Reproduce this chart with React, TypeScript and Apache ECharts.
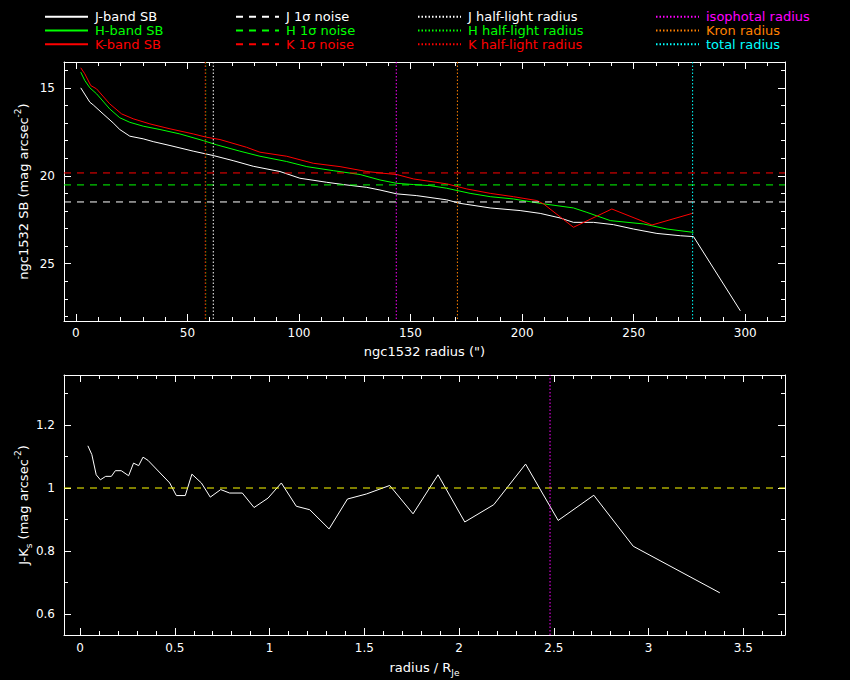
import React, { useEffect, useRef } from "react";
import * as echarts from "echarts";

// ---------- data ----------
const jRadius = [2.2, 6.3, 7.8, 12.2, 16.7, 19.7, 24.2, 30.2, 34.7, 42.2, 52.6, 61.6, 70.5, 79.5, 91.5, 100.4, 112.4, 119.9, 130.4, 136.3, 143.8, 152.8, 166.2, 172.2, 185.7, 199.1, 208.1, 217, 223, 232, 240.9, 249.9, 260.4, 270.9, 276.8, 297.8];
const jSB = [15.0, 15.82, 15.97, 16.48, 16.99, 17.37, 17.75, 17.9, 18.06, 18.28, 18.6, 18.85, 19.14, 19.46, 19.76, 20.14, 20.37, 20.5, 20.66, 20.81, 21.03, 21.13, 21.37, 21.57, 21.83, 21.98, 22.14, 22.4, 22.65, 22.65, 22.78, 23.03, 23.28, 23.41, 23.46, 27.68];

const hRadius = [2.2, 4, 6.3, 9.3, 15.2, 19.7, 24.2, 30.2, 37.7, 46.6, 57.1, 63.1, 73.5, 82.5, 94.5, 103.5, 115.4, 127.4, 136.3, 143.8, 151.3, 158.7, 166.2, 176.7, 185.7, 196.1, 208.1, 223, 229, 239.5, 254.4, 264.9, 276.8];
const hSB = [14.11, 14.58, 15.0, 15.34, 16.2, 16.7, 16.96, 17.18, 17.37, 17.62, 18.0, 18.24, 18.6, 18.89, 19.19, 19.48, 19.71, 19.93, 20.24, 20.43, 20.5, 20.56, 20.71, 21.0, 21.19, 21.32, 21.57, 21.83, 22.08, 22.55, 22.74, 23.03, 23.22];

const kRadius = [2.2, 4, 6.7, 9.3, 15.2, 20.5, 25.7, 33.2, 42.2, 52.6, 58.6, 64.6, 76.5, 82.5, 94.5, 106.4, 118.4, 130.4, 136.3, 143.8, 151.3, 166.2, 175.2, 185.7, 196.1, 206.6, 209.6, 223, 240.2, 258.2, 276.8];
const kSB = [13.86, 14.2, 14.87, 15.06, 15.91, 16.48, 16.76, 17.05, 17.33, 17.62, 17.81, 17.94, 18.38, 18.66, 18.89, 19.29, 19.48, 19.76, 19.84, 19.93, 20.18, 20.46, 20.75, 21.0, 21.19, 21.41, 21.6, 22.93, 21.89, 22.8, 22.12];

// 1-sigma noise levels J, H, K
const noiseLevels = [21.49, 20.52, 19.84];
// half-light radii J, H, K
const halfLightRadii = [61.6, 58.2, 58.0];
const isophotalRadius = 143.6;
const kronRadius = 171;
const totalRadius = 276.4;

// J-Ks colour profile vs radius / R_Je
const ratioRadius = [0.041, 0.062, 0.085, 0.107, 0.135, 0.165, 0.186, 0.217, 0.256, 0.282, 0.309, 0.332, 0.358, 0.473, 0.508, 0.555, 0.59, 0.64, 0.687, 0.742, 0.789, 0.856, 0.918, 0.992, 1.062, 1.141, 1.212, 1.314, 1.411, 1.511, 1.634, 1.757, 1.889, 2.03, 2.183, 2.351, 2.523, 2.711, 2.919, 3.376];
const jkColour = [1.134, 1.106, 1.042, 1.026, 1.037, 1.037, 1.055, 1.055, 1.039, 1.079, 1.071, 1.098, 1.088, 1.016, 0.976, 0.976, 1.044, 1.016, 0.971, 0.995, 0.984, 0.984, 0.938, 0.968, 1.016, 0.942, 0.931, 0.870, 0.965, 0.981, 1.008, 0.918, 1.042, 0.892, 0.947, 1.076, 0.897, 0.977, 0.815, 0.667];
const colourReference = 1.0;
const isophotalRatio = 2.48;

// axis ranges
const topX = [-5.3, 317.8];
const topY = [13.53, 28.26];
const botX = [-0.085, 3.72];
const botY = [0.533, 1.359];

// ---------- styling ----------
const FONT = "DejaVu Sans";
const WHITE = "#ffffff";
const GREEN = "#00ff00";
const RED = "#ff0000";
const MAGENTA = "#ff00ff";
const ORANGE = "#ff8000";
const CYAN = "#00ffff";
const YELLOW = "#ffff00";
const DASH = [7, 6];
const DOT = [1.5, 2];

const zip = (xs: number[], ys: number[]) => xs.map((x, i) => [x, ys[i]]);

const multipleFormatter = (step: number) => (v: number) => {
  const k = v / step;
  if (Math.abs(k - Math.round(k)) > 1e-6) return "";
  return String(Math.round(v * 1000) / 1000);
};

function makeAxis(o: any) {
  return {
    type: "value",
    gridIndex: o.grid,
    position: o.position,
    min: o.range[0],
    max: o.range[1],
    inverse: !!o.inverse,
    splitNumber: o.splitNumber,
    axisLine: { show: true, onZero: false, lineStyle: { color: WHITE, width: 1 } },
    axisTick: { show: true, inside: true, length: 7, lineStyle: { color: WHITE, width: 1 } },
    minorTick: { show: true, splitNumber: o.minor, length: 4, lineStyle: { color: WHITE, width: 1 } },
    splitLine: { show: false },
    minorSplitLine: { show: false },
    axisLabel: o.labels
      ? {
          show: true,
          color: WHITE,
          fontFamily: FONT,
          fontSize: 12,
          margin: o.margin,
          formatter: multipleFormatter(o.step),
        }
      : { show: false },
    name: o.name || "",
    nameLocation: "middle",
    nameGap: o.nameGap || 0,
    nameRotate: o.nameRotate || 0,
    nameMoveOverlap: false,
    nameTextStyle: {
      color: WHITE,
      fontFamily: FONT,
      fontSize: 13,
      rich: {
        t: { color: WHITE, fontFamily: FONT, fontSize: 13, lineHeight: 20 },
        p: { color: WHITE, fontFamily: FONT, fontSize: 9, verticalAlign: "top" },
        b: { color: WHITE, fontFamily: FONT, fontSize: 9, verticalAlign: "bottom" },
      },
    },
  };
}

function lineSeries(name: string, data: number[][], color: string, type: any, xi: number, yi: number) {
  return {
    type: "line",
    name,
    xAxisIndex: xi,
    yAxisIndex: yi,
    data,
    symbol: "none",
    showSymbol: false,
    silent: true,
    lineStyle: { color, width: 1, type },
    itemStyle: { color },
    emphasis: { disabled: true },
    z: 3,
  };
}

const hLine = (y: number, range: number[]) => [[range[0], y], [range[1], y]];
const vLine = (x: number, range: number[]) => [[x, range[0]], [x, range[1]]];

function buildOption() {
  const legendCols = [
    { left: 44, items: [["J-band SB", WHITE], ["H-band SB", GREEN], ["K-band SB", RED]] },
    { left: 235, items: [["J 1σ noise", WHITE], ["H 1σ noise", GREEN], ["K 1σ noise", RED]] },
    { left: 417, items: [["J half-light radius", WHITE], ["H half-light radius", GREEN], ["K half-light radius", RED]] },
    { left: 655, items: [["isophotal radius", MAGENTA], ["Kron radius", ORANGE], ["total radius", CYAN]] },
  ];

  return {
    backgroundColor: "#000000",
    animation: false,
    textStyle: { fontFamily: FONT },
    grid: [
      { left: 64, top: 62, width: 721, height: 259 },
      { left: 64, top: 375, width: 721, height: 260 },
    ],
    legend: legendCols.map((c) => ({
      left: c.left,
      top: 10,
      orient: "vertical",
      itemWidth: 43,
      itemHeight: 13.7,
      itemGap: 0,
      selectedMode: false,
      padding: 0,
      itemStyle: { color: "transparent", borderColor: "transparent", borderWidth: 0, opacity: 0 },
      textStyle: { fontFamily: FONT, fontSize: 13, lineHeight: 13.7, padding: [0, 0, 0, 2] },
      data: c.items.map(([n, col]) => ({ name: n, textStyle: { color: col } })),
    })),
    xAxis: [
      makeAxis({ grid: 0, position: "bottom", range: topX, splitNumber: 6, minor: 5, labels: true, step: 50, margin: 6, name: 'ngc1532 radius (")', nameGap: 24 }),
      makeAxis({ grid: 0, position: "top", range: topX, splitNumber: 6, minor: 5, labels: false }),
      makeAxis({ grid: 1, position: "bottom", range: botX, splitNumber: 8, minor: 5, labels: true, step: 0.5, margin: 7, name: "{t|radius / R}{b|Je}", nameGap: 22 }),
      makeAxis({ grid: 1, position: "top", range: botX, splitNumber: 8, minor: 5, labels: false }),
    ],
    yAxis: [
      makeAxis({ grid: 0, position: "left", range: topY, inverse: true, splitNumber: 3, minor: 5, labels: true, step: 5, margin: 9, name: "{t|ngc1532 SB (mag arcsec}{p|-2}{t|)}", nameGap: 31, nameRotate: 90 }),
      makeAxis({ grid: 0, position: "right", range: topY, inverse: true, splitNumber: 3, minor: 5, labels: false }),
      makeAxis({ grid: 1, position: "left", range: botY, splitNumber: 4, minor: 2, labels: true, step: 0.2, margin: 9, name: "{t|J-K}{b|s}{t| (mag arcsec}{p|-2}{t|)}", nameGap: 31, nameRotate: 90 }),
      makeAxis({ grid: 1, position: "right", range: botY, splitNumber: 4, minor: 2, labels: false }),
    ],
    series: [
      lineSeries("J-band SB", zip(jRadius, jSB), WHITE, "solid", 0, 0),
      lineSeries("H-band SB", zip(hRadius, hSB), GREEN, "solid", 0, 0),
      lineSeries("K-band SB", zip(kRadius, kSB), RED, "solid", 0, 0),
      lineSeries("J 1σ noise", hLine(noiseLevels[0], topX), WHITE, DASH, 0, 0),
      lineSeries("H 1σ noise", hLine(noiseLevels[1], topX), GREEN, DASH, 0, 0),
      lineSeries("K 1σ noise", hLine(noiseLevels[2], topX), RED, DASH, 0, 0),
      lineSeries("J half-light radius", vLine(halfLightRadii[0], topY), WHITE, DOT, 0, 0),
      lineSeries("H half-light radius", vLine(halfLightRadii[1], topY), GREEN, DOT, 0, 0),
      lineSeries("K half-light radius", vLine(halfLightRadii[2], topY), RED, DOT, 0, 0),
      lineSeries("isophotal radius", vLine(isophotalRadius, topY), MAGENTA, DOT, 0, 0),
      lineSeries("Kron radius", vLine(kronRadius, topY), ORANGE, DOT, 0, 0),
      lineSeries("total radius", vLine(totalRadius, topY), CYAN, DOT, 0, 0),
      lineSeries("J-Ks", zip(ratioRadius, jkColour), WHITE, "solid", 2, 2),
      lineSeries("colour reference", hLine(colourReference, botX), YELLOW, DASH, 2, 2),
      lineSeries("isophotal ratio", vLine(isophotalRatio, botY), MAGENTA, DOT, 2, 2),
    ],
  };
}

export default function App() {
  const ref = useRef<HTMLDivElement>(null);
  useEffect(() => {
    document.body.style.margin = "0";
    document.body.style.background = "#000";
    if (!ref.current) return;
    const chart = echarts.init(ref.current, undefined, { renderer: "svg" });
    chart.setOption(buildOption() as any);
    return () => chart.dispose();
  }, []);
  return <div ref={ref} style={{ width: 850, height: 680, background: "#000" }} />;
}
